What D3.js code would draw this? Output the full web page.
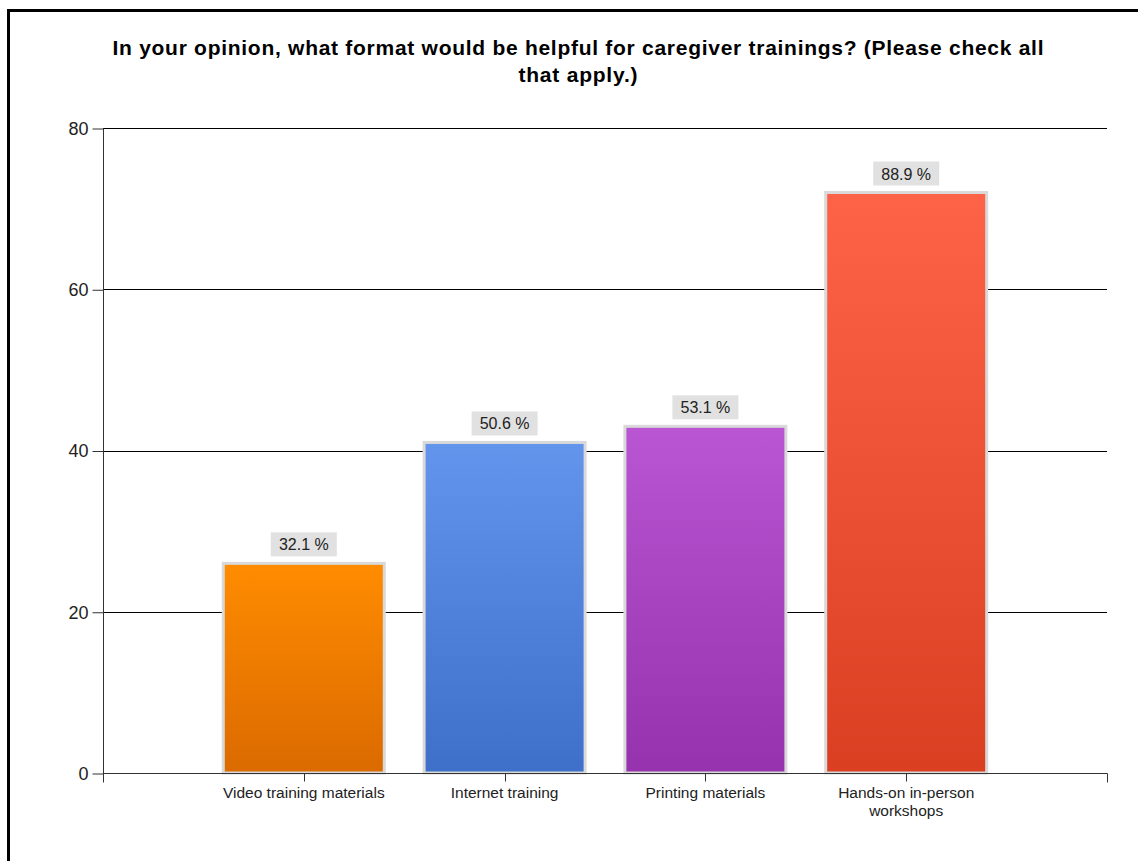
<!DOCTYPE html>
<html><head><meta charset="utf-8">
<script src="https://cdn.jsdelivr.net/npm/d3@7"></script>
<style>body{margin:0;background:#fff;}svg{display:block;font-family:"Liberation Sans",Arial,sans-serif;}</style>
</head><body>
<svg id="c" width="1138" height="861"></svg>
<script>
const categories = ["Video training materials","Internet training","Printing materials","Hands-on in-person workshops"];
const counts = [26, 41, 43, 72];
const percentLabels = ["32.1 %","50.6 %","53.1 %","88.9 %"];
const yTicks = [0, 20, 40, 60, 80];
const titleLines = ["In your opinion, what format would be helpful for caregiver trainings? (Please check all","that apply.)"];
const colorsTop = ["#ff8c00","#6495ed","#ba55d3","#ff6347"];
const colorsBottom = ["#db6a00","#3e6fc9","#9632ad","#db3f22"];

const svg = d3.select("#c");
svg.append("rect").attr("x",8.5).attr("y",10.5).attr("width",1200).attr("height",1000)
  .attr("fill","none").attr("stroke","#000").attr("stroke-width",3);

const defs = svg.append("defs");
categories.forEach((c,i)=>{
  const g = defs.append("linearGradient").attr("id","g"+i).attr("x1",0).attr("y1",0).attr("x2",0).attr("y2",1);
  g.append("stop").attr("offset","0%").attr("stop-color",colorsTop[i]);
  g.append("stop").attr("offset","100%").attr("stop-color",colorsBottom[i]);
});

const x0 = 103, x1 = 1107, yTop = 128, yBot = 773;
const x = d3.scaleLinear().domain([0, categories.length+1]).range([x0, x1]);
const y = d3.scaleLinear().domain([0, 80]).range([yBot, yTop]);

// title
const titleWidths = [931, 119];
titleLines.forEach((t,i)=>{
  svg.append("text").attr("x",578).attr("y",55+i*27).attr("text-anchor","middle")
    .attr("font-weight","bold").attr("font-size",21).attr("fill","#000")
    .attr("textLength",titleWidths[i]).attr("lengthAdjust","spacing").text(t);
});

// gridlines
svg.append("g").selectAll("line").data(yTicks.filter(d=>d>0)).join("line")
  .attr("x1",x0).attr("x2",x1).attr("y1",d=>Math.round(y(d))+0.5).attr("y2",d=>Math.round(y(d))+0.5)
  .attr("stroke","#000").attr("stroke-width",1);

// y axis
const yAxis = d3.axisLeft(y).tickValues(yTicks).tickSize(11).tickPadding(4).tickFormat(d3.format("d"));
const ya = svg.append("g").attr("transform",`translate(${x0+0.5},0.5)`).call(yAxis);
ya.select(".domain").attr("stroke","#333").attr("d",`M0,${yTop}V${yBot}`);
ya.selectAll(".tick line").attr("stroke","#333");
ya.selectAll(".tick text").attr("font-size",18).attr("fill","#222").attr("font-family","Liberation Sans, Arial, sans-serif");

// bars
const bw = 161;
const bars = svg.append("g");
bars.selectAll("rect").data(counts).join("rect")
  .attr("x",(d,i)=>x(i+1)-bw/2).attr("y",d=>y(d)).attr("width",bw).attr("height",d=>yBot-y(d))
  .attr("fill",(d,i)=>`url(#g${i})`).attr("stroke","#d9d9d9").attr("stroke-width",3);

// x axis
const xa = svg.append("g").attr("transform",`translate(0,${yBot+0.5})`);
xa.append("path").attr("d",`M${x0},0H${x1+0.5}V9`).attr("stroke","#333").attr("fill","none");
xa.append("path").attr("d",`M${x0+0.5},0V9`).attr("stroke","#333");
xa.selectAll("line.t").data(categories).join("line").attr("class","t")
  .attr("x1",(d,i)=>Math.round(x(i+1))+0.5).attr("x2",(d,i)=>Math.round(x(i+1))+0.5)
  .attr("y1",0).attr("y2",8).attr("stroke","#333");
const catLines = [["Video training materials"],["Internet training"],["Printing materials"],["Hands-on in-person","workshops"]];
xa.selectAll("text").data(categories).join("text")
  .attr("text-anchor","middle").attr("font-size",15.5).attr("fill","#222")
  .each(function(d,i){
    d3.select(this).selectAll("tspan").data(catLines[i]).join("tspan")
      .attr("x",x(i+1)).attr("y",(t,j)=>24+j*18).text(t=>t);
  });

// value labels
const lab = svg.append("g");
counts.forEach((d,i)=>{
  const cx = x(i+1), top = y(d);
  lab.append("rect").attr("x",cx-33).attr("y",top-31).attr("width",66).attr("height",24).attr("fill","#e1e1e1");
  lab.append("text").attr("x",cx).attr("y",top-13).attr("text-anchor","middle")
    .attr("font-size",16).attr("fill","#222").text(percentLabels[i]);
});
</script>
</body></html>
